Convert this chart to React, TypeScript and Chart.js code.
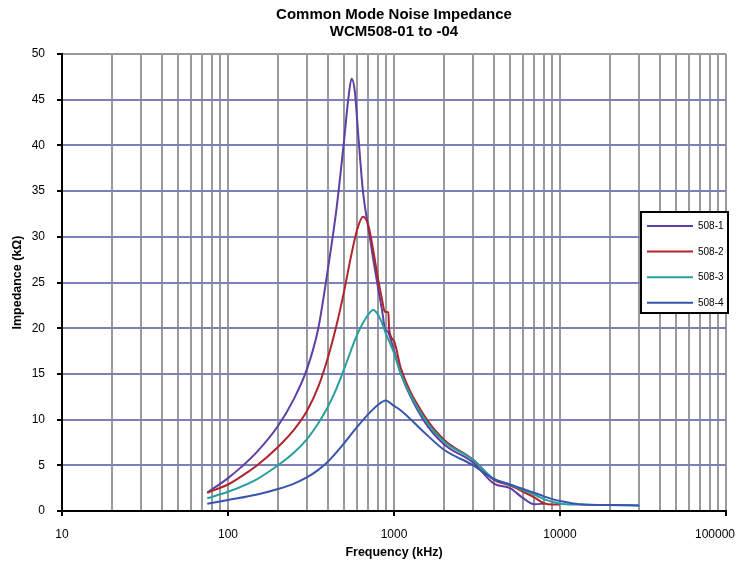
import { useEffect, useRef } from "react";
import { Chart, registerables } from "chart.js";

Chart.register(...registerables);

const FONT = "'Liberation Sans', Arial, Helvetica, sans-serif";

const titleLines = ["Common Mode Noise Impedance", "WCM508-01 to -04"];
const xAxisTitle = "Frequency (kHz)";
const yAxisTitle = "Impedance (kΩ)";

const seriesNames = ["508-1", "508-2", "508-3", "508-4"];
const seriesColors = ["#5E3FA5", "#B0242B", "#26A09E", "#3855AD"];

// 508-1
const freq1 = [75, 100, 120, 150, 200, 250, 300, 350, 400, 450, 500, 530, 555, 580, 610, 650, 700, 750, 800, 850, 880, 920, 1000, 1100, 1500, 2000, 3000, 4000, 5000, 6000, 7000, 8000];
const imp1 = [2.0, 3.6, 4.8, 6.5, 9.3, 12.3, 15.6, 20.0, 26.5, 33.0, 40.5, 45.0, 47.3, 46.0, 41.0, 35.0, 31.0, 27.5, 24.5, 21.8, 20.0, 19.6, 17.6, 15.0, 10.0, 7.3, 5.3, 3.0, 2.5, 1.4, 0.75, 0.8];

// 508-2
const freq2 = [75, 100, 130, 150, 200, 250, 300, 350, 400, 450, 500, 550, 600, 650, 700, 750, 800, 850, 880, 925, 935, 1000, 1100, 1500, 2000, 3000, 4000, 5000, 6000, 7000, 8000, 9000, 10000];
const imp2 = [2.0, 2.9, 4.2, 5.0, 7.0, 8.9, 11.0, 13.6, 16.8, 20.3, 24.0, 27.8, 30.8, 32.2, 31.3, 28.5, 25.5, 23.0, 21.8, 21.7, 19.9, 18.6, 15.6, 10.6, 7.8, 5.6, 3.4, 2.8, 2.1, 1.5, 0.85, 0.7, 0.7];

// 508-3
const freq3 = [75, 100, 150, 200, 250, 300, 350, 400, 450, 500, 600, 700, 750, 800, 850, 890, 1000, 1100, 1500, 2000, 3000, 4000, 5000, 6000, 7000, 8000, 9000, 10000, 13000, 20000, 30000];
const imp3 = [1.4, 2.1, 3.5, 5.0, 6.4, 7.9, 9.6, 11.4, 13.4, 15.5, 19.3, 21.5, 22.0, 21.5, 20.5, 19.5, 17.3, 15.0, 10.3, 7.6, 5.6, 3.5, 2.9, 2.3, 1.8, 1.3, 1.0, 0.8, 0.7, 0.65, 0.6];

// 508-4
const freq4 = [75, 100, 150, 200, 250, 300, 350, 400, 500, 600, 700, 800, 890, 1000, 1100, 1500, 2000, 3000, 4000, 5000, 6000, 7000, 8000, 9000, 10000, 13000, 20000, 30000];
const imp4 = [0.8, 1.2, 1.8, 2.4, 3.0, 3.7, 4.5, 5.4, 7.4, 9.2, 10.6, 11.6, 12.1, 11.5, 11.0, 8.7, 6.7, 5.0, 3.5, 2.9, 2.4, 2.0, 1.6, 1.3, 1.1, 0.75, 0.65, 0.6];

const xMajorTicks = [10, 100, 1000, 10000, 100000];
const xMinorMultipliers = [1, 2, 3, 4, 5, 6, 7, 8, 9];
const yMin = 0;
const yMax = 50;
const yStep = 5;

const freqs = [freq1, freq2, freq3, freq4];
const imps = [imp1, imp2, imp3, imp4];

export default function App() {
  const ref = useRef<HTMLCanvasElement>(null);

  useEffect(() => {
    document.body.style.margin = "0";
    const canvas = ref.current;
    if (!canvas) return;

    const allXTicks: number[] = [];
    for (let i = 0; i < xMajorTicks.length - 1; i++) {
      for (const m of xMinorMultipliers) allXTicks.push(m * xMajorTicks[i]);
    }
    allXTicks.push(xMajorTicks[xMajorTicks.length - 1]);

    const overlay = {
      id: "overlay",
      afterDraw(chart: any) {
        const ctx = chart.ctx as CanvasRenderingContext2D;
        const area = chart.chartArea;
        const xs = chart.scales.x;
        const cx = (area.left + area.right) / 2;
        ctx.save();
        ctx.fillStyle = "#000";
        ctx.textAlign = "center";
        ctx.textBaseline = "middle";
        ctx.font = `bold 15px ${FONT}`;
        ctx.fillText(titleLines[0], cx, 15);
        ctx.fillText(titleLines[1], cx, 32);

        ctx.font = `12px ${FONT}`;
        for (const v of xMajorTicks) {
          const label = String(v);
          const w = ctx.measureText(label).width;
          let px = xs.getPixelForValue(v);
          if (px + w / 2 > 735) px = 735 - w / 2;
          ctx.fillText(label, px, 535);
        }

        ctx.font = `bold 12.5px ${FONT}`;
        ctx.fillText(xAxisTitle, cx, 553);

        ctx.save();
        ctx.translate(18, (area.top + area.bottom) / 2);
        ctx.rotate(-Math.PI / 2);
        ctx.fillText(yAxisTitle, 0, 0);
        ctx.restore();

        // legend
        const lx = 641, ly = 212, lw = 87, lh = 101;
        ctx.fillStyle = "#fff";
        ctx.fillRect(lx, ly, lw, lh);
        ctx.strokeStyle = "#000";
        ctx.lineWidth = 2;
        ctx.strokeRect(lx, ly, lw, lh);
        ctx.font = `10px ${FONT}`;
        ctx.textAlign = "left";
        for (let i = 0; i < seriesNames.length; i++) {
          const y = 226 + i * 25.6;
          ctx.strokeStyle = seriesColors[i];
          ctx.lineWidth = 2;
          ctx.beginPath();
          ctx.moveTo(647, y);
          ctx.lineTo(693, y);
          ctx.stroke();
          ctx.fillStyle = "#000";
          ctx.fillText(seriesNames[i], 698, y + 0.5);
        }
        ctx.restore();
      },
    };

    const chart = new Chart(canvas, {
      type: "line",
      data: {
        datasets: seriesNames.map((name, i) => ({
          label: name,
          data: freqs[i].map((f, j) => ({ x: f, y: imps[i][j] })),
          borderColor: seriesColors[i],
          backgroundColor: seriesColors[i],
          borderWidth: 2,
          pointRadius: 0,
          fill: false,
          cubicInterpolationMode: "monotone" as const,
          order: seriesNames.length - i,
        })),
      },
      options: {
        animation: false,
        responsive: false,
        devicePixelRatio: 1,
        layout: { padding: { top: 54, right: 19, left: 0, bottom: 0 } },
        plugins: {
          legend: { display: false },
          title: { display: false },
          tooltip: { enabled: false },
        },
        scales: {
          x: {
            type: "logarithmic",
            min: xMajorTicks[0],
            max: xMajorTicks[xMajorTicks.length - 1],
            afterBuildTicks: (s: any) => {
              s.ticks = allXTicks.map((v) => ({ value: v, major: xMajorTicks.includes(v) }));
            },
            afterFit: (s: any) => {
              s.height = 57;
            },
            ticks: { display: false, autoSkip: false },
            grid: {
              color: "#9A9A9A",
              lineWidth: 2,
              drawTicks: true,
              tickLength: 5,
              tickWidth: 2,
              tickColor: (c: any) =>
                c.tick && xMajorTicks.includes(c.tick.value) ? "#000" : "rgba(0,0,0,0)",
            },
            border: { color: "#000", width: 2 },
          },
          y: {
            type: "linear",
            min: yMin,
            max: yMax,
            afterFit: (s: any) => {
              s.width = 62;
            },
            ticks: {
              stepSize: yStep,
              color: "#000",
              padding: 12,
              font: { family: FONT, size: 12 },
            },
            grid: {
              color: (c: any) =>
                c.tick && c.tick.value === yMax
                  ? "#9A9A9A"
                  : c.tick && c.tick.value === yMin
                  ? "rgba(0,0,0,0)"
                  : "#7F7FBA",
              lineWidth: 2,
              drawTicks: true,
              tickLength: 5,
              tickWidth: 2,
              tickColor: "#000",
            },
            border: { color: "#000", width: 2 },
          },
        },
      },
      plugins: [overlay],
    } as any);

    return () => chart.destroy();
  }, []);

  return (
    <div style={{ width: 745, height: 568 }}>
      <canvas ref={ref} width={745} height={568} />
    </div>
  );
}
